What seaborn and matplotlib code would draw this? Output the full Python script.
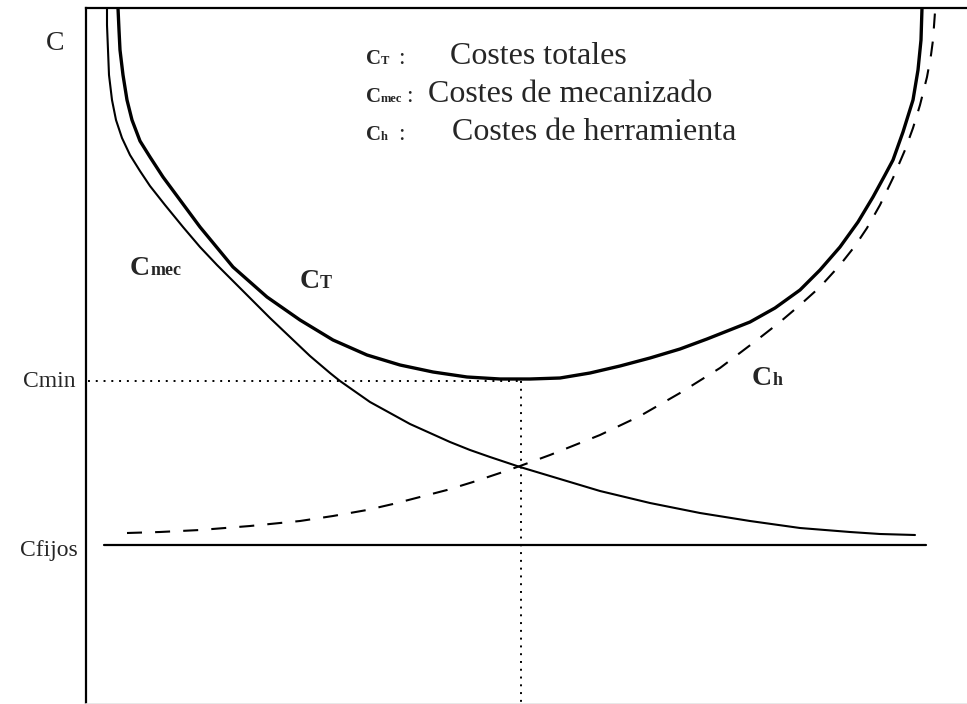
import matplotlib
matplotlib.use("Agg")
import matplotlib.pyplot as plt
import seaborn as sns

# Curves, in pixel units of the 967x704 picture
# (x to the right, y downwards; the axis limits below make data == pixels).
CT_X = [118, 119, 120, 123, 127, 132, 140, 150, 163, 200, 233, 267, 300, 333,
        367, 400, 433, 467, 500, 530, 560, 590, 620, 650, 680, 707, 750, 775,
        800, 820, 840, 858, 873, 885, 893, 903, 913, 918, 921, 922]
CT_Y = [8, 30, 50, 75, 100, 120, 141, 157, 177, 227, 267, 297, 320, 340,
        355, 365, 372, 377, 379, 379, 378, 373, 366, 358, 349, 339, 322, 308,
        290, 270, 247, 222, 197, 175, 160, 132, 100, 70, 40, 8]

CMEC_X = [107, 107, 108, 109, 112, 116, 122, 130, 140, 150, 165, 183, 200, 217,
          233, 250, 270, 290, 310, 330, 340, 350, 370, 390, 410, 430, 450, 470,
          490, 520, 560, 600, 650, 700, 750, 800, 850, 880, 915]
CMEC_Y = [8, 25, 50, 75, 100, 120, 138, 155, 171, 186, 205, 227, 247, 265,
          281, 298, 318, 337, 356, 373, 381, 388, 402, 413, 424, 433, 442, 450,
          457, 467, 479, 491, 503, 513, 521, 528, 532, 534, 535]

CH_X = [127, 160, 200, 250, 300, 333, 367, 393, 420, 447, 473, 500, 520, 550,
        580, 600, 640, 680, 720, 757, 780, 800, 820, 840, 855, 867, 880, 893,
        905, 913, 920, 927, 931, 933, 935]
CH_Y = [533, 532, 530, 526, 521, 516, 510, 504, 497, 490, 482, 473, 466, 455,
        443, 435, 416, 393, 368, 340, 322, 305, 287, 265, 246, 228, 205, 178,
        150, 128, 105, 77, 55, 40, 12]

C_MIN = 381
X_OPT = 521
C_FIJOS = 545
FIJOS_X = [104, 926]

LEGEND_SUBS = ["T", "mec", "h"]
LEGEND_TEXT = ["Costes totales", "Costes de mecanizado", "Costes de herramienta"]

sns.set_style("white")
plt.rcParams["font.family"] = ["Liberation Serif", "DejaVu Serif"]

fig = plt.figure(figsize=(9.67, 7.04), dpi=100)
ax = fig.add_axes([86 / 967, 0, 1 - 86 / 967, 1 - 8 / 704])
ax.set_xlim(86, 967)
ax.set_ylim(704, 8)

sns.lineplot(x=CT_X, y=CT_Y, sort=False, estimator=None, color="black", lw=2.4, ax=ax)
sns.lineplot(x=CMEC_X, y=CMEC_Y, sort=False, estimator=None, color="black", lw=1.5, ax=ax)
sns.lineplot(x=CH_X, y=CH_Y, sort=False, estimator=None, color="black", lw=1.5,
             linestyle=(0, (7.2, 6.3)), ax=ax)
ax.plot(FIJOS_X, [C_FIJOS, C_FIJOS], color="black", lw=1.6)

# dotted guides to the minimum
ax.plot([88, X_OPT], [C_MIN, C_MIN], color="black", lw=1.4, linestyle=(0, (1, 3)))
ax.plot([X_OPT, X_OPT], [C_MIN, 704], color="black", lw=1.4, linestyle=(0, (1, 3)))

ax.set_xticks([])
ax.set_yticks([])
for side in ["left", "top"]:
    ax.spines[side].set_visible(True)
    ax.spines[side].set_color("black")
    ax.spines[side].set_linewidth(1.6)
ax.spines["right"].set_visible(False)
ax.spines["bottom"].set_color("#e4e4e4")
ax.spines["bottom"].set_linewidth(1.2)


def label(x, y, sub, size, sub_size):
    t = ax.text(x, y, "C", fontsize=size, weight="bold", ha="left", va="baseline",
                clip_on=False)
    ax.annotate(sub, xy=(1, y), xycoords=(t, "data"), fontsize=sub_size, weight="bold",
                ha="left", va="baseline", annotation_clip=False)


# axis labels
ax.text(55, 50, "C", fontsize=20, ha="center", va="baseline", clip_on=False)
ax.text(23, 387, "Cmin", fontsize=17, ha="left", va="baseline", clip_on=False)
ax.text(20, 556, "Cfijos", fontsize=17, ha="left", va="baseline", clip_on=False)

# curve labels
label(130, 275, "mec", 20, 13)
label(300, 288, "T", 20, 13)
label(752, 385, "h", 20, 13)

# legend block
legend_y = [64, 102, 140]
colon_x = [398, 406, 398]
text_x = [450, 428, 452]
for sub, desc, y, cx, tx in zip(LEGEND_SUBS, LEGEND_TEXT, legend_y, colon_x, text_x):
    label(366, y, sub, 15, 9)
    ax.text(cx, y, ":", fontsize=17, ha="left", va="baseline")
    ax.text(tx, y, desc, fontsize=23, ha="left", va="baseline")

fig.savefig("out.png", dpi=100)
